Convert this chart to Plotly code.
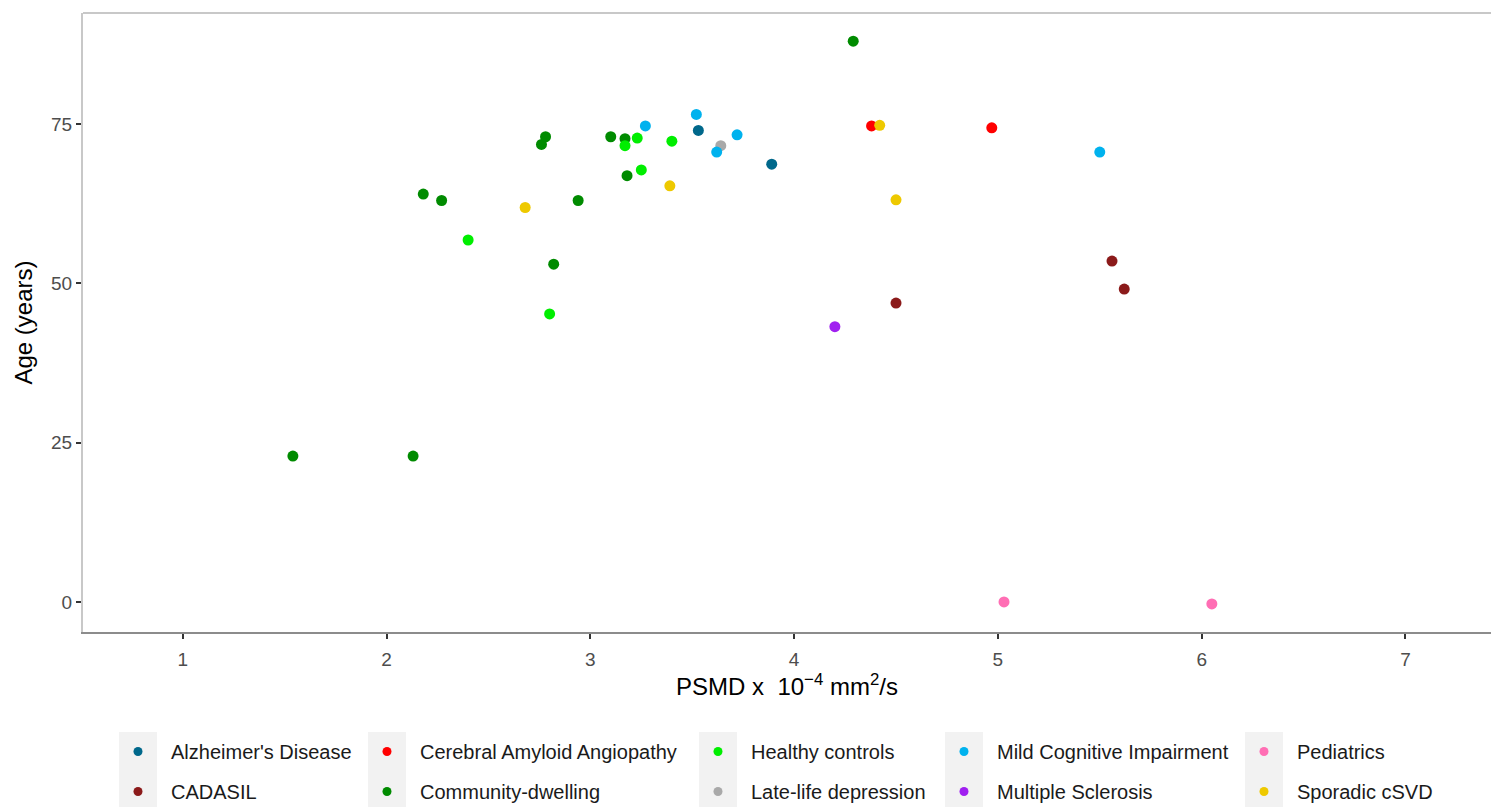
import plotly.graph_objects as go

# ---------------- data ----------------
groups = ["Alzheimer's Disease", "CADASIL", "Cerebral Amyloid Angiopathy",
          "Community-dwelling", "Healthy controls", "Late-life depression",
          "Mild Cognitive Impairment", "Multiple Sclerosis", "Pediatrics",
          "Sporadic cSVD"]

colors = {
    "Alzheimer's Disease": "#00688B",
    "CADASIL": "#8B1A1A",
    "Cerebral Amyloid Angiopathy": "#FF0000",
    "Community-dwelling": "#008B00",
    "Healthy controls": "#00EE00",
    "Late-life depression": "#A9A9A9",
    "Mild Cognitive Impairment": "#00B2EE",
    "Multiple Sclerosis": "#A020F0",
    "Pediatrics": "#FF6EB4",
    "Sporadic cSVD": "#EEC900",
}

ad_psmd = [3.53, 3.89]
ad_age = [74.0, 68.7]

cadasil_psmd = [4.50, 5.56, 5.62]
cadasil_age = [46.9, 53.5, 49.1]

caa_psmd = [4.38, 4.97]
caa_age = [74.7, 74.4]

community_psmd = [1.54, 2.13, 2.18, 2.27, 2.76, 2.78, 2.82, 2.94, 3.10, 3.17, 3.18, 4.29]
community_age = [22.9, 22.9, 64.0, 63.0, 71.8, 73.0, 53.0, 63.0, 73.0, 72.7, 66.9, 88.0]

healthy_psmd = [2.40, 2.80, 3.17, 3.23, 3.25, 3.40]
healthy_age = [56.8, 45.2, 71.6, 72.8, 67.8, 72.3]

lld_psmd = [3.64]
lld_age = [71.6]

mci_psmd = [3.27, 3.52, 3.62, 3.72, 5.50]
mci_age = [74.7, 76.5, 70.6, 73.3, 70.6]

ms_psmd = [4.20]
ms_age = [43.2]

ped_psmd = [5.03, 6.05]
ped_age = [0.0, -0.3]

svd_psmd = [2.68, 3.39, 4.42, 4.50]
svd_age = [61.9, 65.3, 74.8, 63.1]

series = {
    "Alzheimer's Disease": (ad_psmd, ad_age),
    "CADASIL": (cadasil_psmd, cadasil_age),
    "Cerebral Amyloid Angiopathy": (caa_psmd, caa_age),
    "Community-dwelling": (community_psmd, community_age),
    "Healthy controls": (healthy_psmd, healthy_age),
    "Late-life depression": (lld_psmd, lld_age),
    "Mild Cognitive Impairment": (mci_psmd, mci_age),
    "Multiple Sclerosis": (ms_psmd, ms_age),
    "Pediatrics": (ped_psmd, ped_age),
    "Sporadic cSVD": (svd_psmd, svd_age),
}

x_ticks = [1, 2, 3, 4, 5, 6, 7]
y_ticks = [0, 25, 50, 75]

# ---------------- layout constants ----------------
W, H = 1491, 807
ML, MR, MT, MB = 83, 0, 13, 175
PW = W - ML - MR
PH = H - MT - MB
FONT = "Liberation Sans, Arial, sans-serif"


def px2paper_x(px):
    return (px - ML) / PW


def px2paper_y(py):
    return (H - MB - py) / PH


fig = go.Figure()

# data traces
for g in groups:
    xs, ys = series[g]
    fig.add_trace(go.Scatter(
        x=xs, y=ys, mode="markers", name=g, showlegend=False,
        marker=dict(color=colors[g], size=11, line=dict(width=0)),
    ))

# legend entries: 5 columns of 2 (ggplot fills column-wise)
legend_cols = [
    ["Alzheimer's Disease", "CADASIL"],
    ["Cerebral Amyloid Angiopathy", "Community-dwelling"],
    ["Healthy controls", "Late-life depression"],
    ["Mild Cognitive Impairment", "Multiple Sclerosis"],
    ["Pediatrics", "Sporadic cSVD"],
]
key_centers = [138, 387, 718, 964, 1264]  # pixel x of key dots

layout_legends = {}
shapes = []
for i, (col, kc) in enumerate(zip(legend_cols, key_centers)):
    lname = "legend" if i == 0 else f"legend{i + 1}"
    for g in col:
        fig.add_trace(go.Scatter(
            x=[None], y=[None], mode="markers", name=g, legend=lname,
            legendgroup=g, showlegend=True,
            marker=dict(color=colors[g], size=9, line=dict(width=0)),
        ))
    layout_legends[lname] = dict(
        x=px2paper_x(kc - 33), xanchor="left",
        y=px2paper_y(732), yanchor="top",
        orientation="v", bgcolor="rgba(0,0,0,0)", borderwidth=0,
        itemwidth=56, tracegroupgap=11, traceorder="grouped",
        font=dict(family=FONT, size=20, color="#1a1a1a"),
        itemclick=False, itemdoubleclick=False,
    )
    # grey key background
    shapes.append(dict(
        type="rect", xref="paper", yref="paper",
        x0=px2paper_x(kc - 19), x1=px2paper_x(kc + 19),
        y0=px2paper_y(732), y1=px2paper_y(808),
        fillcolor="#F2F2F2", line=dict(width=0), layer="below",
    ))

# top border line of the panel
shapes.append(dict(
    type="line", xref="paper", yref="paper", x0=0, x1=1, y0=1, y1=1,
    line=dict(color="#C8C8C8", width=2), layer="above",
))

fig.update_layout(
    width=W, height=H,
    margin=dict(l=ML, r=MR, t=MT, b=MB, autoexpand=False),
    paper_bgcolor="white", plot_bgcolor="white",
    font=dict(family=FONT, color="#000000"),
    shapes=shapes,
    **layout_legends,
    xaxis=dict(
        range=[0.51, 7.42], tickvals=x_ticks, ticktext=[str(v) for v in x_ticks],
        showgrid=False, zeroline=False,
        showline=True, linecolor="#8C8C8C", linewidth=2,
        ticks="outside", ticklen=5, tickwidth=2, tickcolor="#333333",
        tickfont=dict(family=FONT, size=19, color="#4D4D4D"),
        ticklabelstandoff=4,
        title=dict(text="PSMD x  10<sup>\u22124</sup> mm<sup>2</sup>/s",
                   font=dict(family=FONT, size=24, color="#000000"),
                   standoff=9),
    ),
    yaxis=dict(
        range=[-4.71, 92.42], tickvals=y_ticks, ticktext=[str(v) for v in y_ticks],
        showgrid=False, zeroline=False,
        showline=True, linecolor="#C8C8C8", linewidth=2,
        ticks="outside", ticklen=5, tickwidth=2, tickcolor="#333333",
        tickfont=dict(family=FONT, size=19, color="#4D4D4D"),
        title=dict(text="Age (years)",
                   font=dict(family=FONT, size=24, color="#000000"),
                   standoff=12),
    ),
)

fig.write_html("out.html")
